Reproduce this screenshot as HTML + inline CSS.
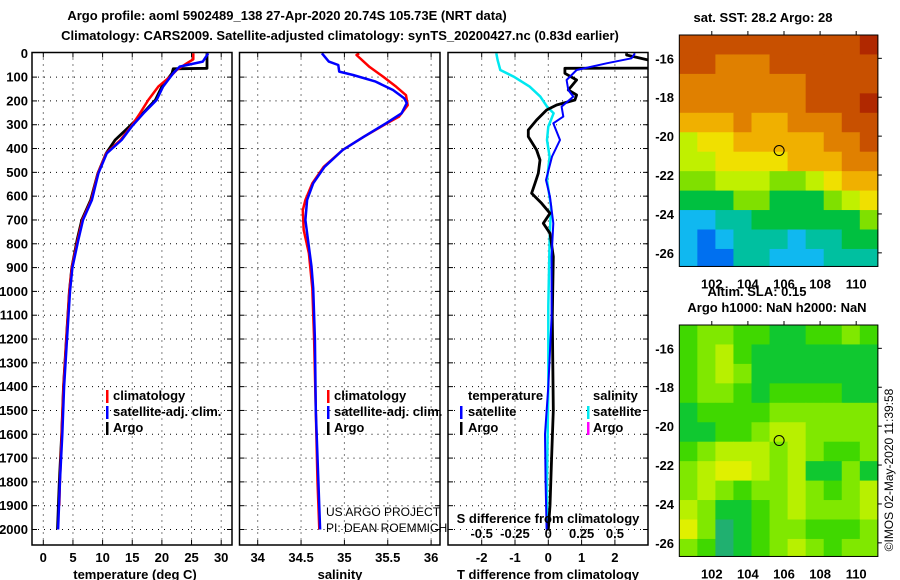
<!DOCTYPE html>
<html><head><meta charset="utf-8">
<style>
html,body{margin:0;padding:0;background:#fff;}
svg{display:block;font-family:"Liberation Sans",Arial,sans-serif;}
.b{font-weight:bold;font-size:13px;}
</style></head>
<body>
<svg id="c" width="900" height="580" viewBox="0 0 900 580" xmlns="http://www.w3.org/2000/svg"></svg>
<script>
// ---------------- data ----------------
const depthTicks = [0,100,200,300,400,500,600,700,800,900,1000,1100,1200,1300,1400,1500,1600,1700,1800,1900,2000];
const tempTicks = [0,5,10,15,20,25,30];
const salTicks = [34,34.5,35,35.5,36];
const salTickLabels = ["34","34.5","35","35.5","36"];
const tdiffTicks = [-2,-1,0,1,2];
const sdiffTicks = [-0.5,-0.25,0,0.25,0.5];
const sdiffTickLabels = ["-0.5","-0.25","0","0.25","0.5"];

// temperature profiles
const tClimDepth = [0,25,42,70,98,140,196,252,308,364,420,504,616,700,784,900,1000,1200,1400,1600,1800,1900];
const tClimVal   = [25.3,25.3,24.2,22.5,21.4,19.4,17.7,16.3,14.8,13.0,10.6,9.2,8.1,6.6,5.8,4.8,4.4,3.9,3.4,3.1,2.8,2.7];
const tSatDepth  = [0,35,56,84,140,196,252,308,364,420,504,616,700,784,900,1000,1200,1400,1600,1800,2000];
const tSatVal    = [27.8,26.9,23.0,21.9,20.2,19.1,16.9,14.9,13.2,10.7,9.3,8.2,6.7,5.9,4.9,4.5,4.0,3.5,3.2,2.8,2.5];
const tArgoDepth = [0,63,65,84,140,196,252,308,364,420,504,616,700,784,900,1000,1200,1400,1600,1800,2000];
const tArgoVal   = [27.6,27.6,21.9,21.7,20.0,18.9,16.8,14.5,12.1,10.6,9.2,8.0,6.5,5.7,4.8,4.4,3.9,3.4,3.1,2.7,2.4];

// salinity profiles
const sClimDepth = [0,7,57,99,141,176,218,266,294,351,406,477,546,616,659,742,840,986,1200,1500,1800,2000];
const sClimVal   = [35.17,35.14,35.29,35.45,35.60,35.71,35.73,35.63,35.49,35.22,34.98,34.76,34.63,34.55,34.52,34.53,34.59,34.63,34.65,34.67,34.69,34.71];
const sSatDepth  = [0,35,49,77,91,119,154,189,209,252,294,351,406,477,546,616,700,784,896,986,1200,1500,1800,2000];
const sSatVal    = [34.74,34.82,34.93,34.94,35.10,35.36,35.56,35.69,35.72,35.66,35.48,35.22,34.98,34.77,34.64,34.57,34.55,34.58,34.62,34.64,34.66,34.67,34.70,34.72];

// differences
const dTSatDepth = [0,21,42,70,112,154,182,224,266,294,364,434,532,603,714,854,1106,1400,1600,1800,2000];
const dTSatVal   = [2.6,2.5,1.75,0.85,0.55,0.6,0.75,0.4,0.45,0.15,0.35,0.11,-0.07,0.05,0.15,0.1,0.1,0.0,-0.1,-0.08,-0.05];
const dTArgoDepth = [0,7,35,62,63,84,112,154,175,196,217,238,280,322,350,406,448,504,546,588,630,672,714,756,854,1106,1500,1700,1900,2000];
const dTArgoVal   = [2.35,2.35,3.2,3.2,0.5,0.5,0.85,0.6,0.85,0.8,0.25,-0.05,-0.35,-0.6,-0.6,-0.35,-0.25,-0.3,-0.4,-0.5,-0.2,0.05,-0.15,0.05,0.15,0.12,0.15,0.1,0.05,0.0];
const dSSatDepth = [0,28,70,98,140,182,224,252,308,364,434,532,644,784,1064,1400,1800,2000];
const dSSatVal   = [-0.39,-0.38,-0.36,-0.26,-0.14,-0.06,-0.01,0.04,0.0,-0.01,0.01,-0.01,0.02,0.01,0.0,0.0,-0.01,-0.01];

// maps
const mapLonTicks = [102,104,106,108,110];
const mapLatTicks = [-16,-18,-20,-22,-24,-26];
const floatLon = 105.73, floatLat = -20.74;
const sstPalette = ["#0030c0","#0070f0","#10b8f0","#00c0a0","#00c040","#80e000","#c0f000","#f0e000","#f0b000","#e08000","#c85000","#b02800"];
const sstGrid = [
 [10,10,10,10,10,10,10,10,10,10,11],
 [10,10,9,9,9,10,10,10,10,10,10],
 [9,9,9,9,9,9,9,10,10,10,10],
 [9,9,9,9,9,9,9,10,10,10,11],
 [8,8,8,9,8,8,9,9,9,10,10],
 [6,7,7,8,8,8,8,8,9,9,10],
 [6,6,7,7,7,7,8,8,8,9,9],
 [5,5,6,6,6,5,5,6,7,8,8],
 [4,4,4,5,5,4,4,4,5,6,7],
 [2,2,3,3,4,4,4,4,4,4,5],
 [2,1,2,3,3,3,2,3,3,4,4],
 [2,1,1,3,3,2,2,2,3,3,3]];
const slaPalette = ["#20b070","#10c830","#40d800","#80e800","#b8f000","#e0f000"];
const slaGrid = [
 [2,3,3,2,2,1,1,2,2,3,2],
 [2,3,4,2,1,1,1,1,1,1,1],
 [2,3,4,3,1,1,1,1,1,1,1],
 [2,3,3,2,1,2,2,2,2,1,1],
 [1,2,2,2,2,3,3,3,3,3,3],
 [1,1,2,2,3,4,4,3,3,3,3],
 [2,3,4,4,4,3,4,3,2,2,3],
 [3,4,5,5,4,3,4,1,1,3,1],
 [3,4,3,2,3,3,4,3,2,3,4],
 [4,3,1,1,2,3,4,3,3,3,4],
 [5,3,0,1,2,3,3,2,2,2,3],
 [3,2,0,1,2,3,4,3,2,3,3]];

// ---------------- drawing ----------------
const NS="http://www.w3.org/2000/svg";
const svg=document.getElementById('c');
function el(tag,attrs,parent){const e=document.createElementNS(NS,tag);for(const k in attrs)e.setAttribute(k,attrs[k]);(parent||svg).appendChild(e);return e;}
function txt(s,x,y,attrs,parent){const e=el('text',Object.assign({x:x,y:y},attrs),parent);e.textContent=s;return e;}

const TOP=52.5, BOT=545;
const yD = d => 53.3 + d*0.2381;
const xT = t => 43.3 + t*5.93;
const xS = s => 257.7 + (s-34)*86.7;
const xDT = v => 548.3 + v*33.3;
const xDS = v => 548.3 + v*133.3;

const panels=[{x0:32,x1:232,name:'temperature-panel'},{x0:239.5,x1:440,name:'salinity-panel'},{x0:448,x1:648,name:'difference-panel'}];
const pg=[];
panels.forEach((p,i)=>{
  const g=el('g',{});
  
  
  pg.push(g);
  const cp=el('clipPath',{id:'cp'+i},g);
  el('rect',{x:p.x0,y:TOP,width:p.x1-p.x0,height:BOT-TOP},cp);
  // horizontal grid
  depthTicks.forEach(d=>{
    if(d===0) return;
    const l=el('line',{x1:p.x0,x2:p.x1,y1:yD(d),y2:yD(d),stroke:'#000','stroke-width':1,'stroke-dasharray':'1,5'},g);
    
    
    el('line',{x1:p.x0,x2:p.x0+5,y1:yD(d),y2:yD(d),stroke:'#000'},g);
    el('line',{x1:p.x1-5,x2:p.x1,y1:yD(d),y2:yD(d),stroke:'#000'},g);
  });
});
// vertical grids
function vgrid(g,xs,x0,x1){xs.forEach(x=>{const l=el('line',{x1:x,x2:x,y1:TOP,y2:BOT,stroke:'#000','stroke-dasharray':'1,5'},g);
  
  
  el('line',{x1:x,x2:x,y1:BOT-5,y2:BOT,stroke:'#000'},g);el('line',{x1:x,x2:x,y1:TOP,y2:TOP+5,stroke:'#000'},g);});}
vgrid(pg[0],tempTicks.map(xT));
vgrid(pg[1],salTicks.map(xS));
vgrid(pg[2],tdiffTicks.map(xDT));

function series(g,clip,depths,vals,xf,color,name,w){
  const pts=depths.map((d,i)=>xf(vals[i]).toFixed(1)+','+yD(d).toFixed(1)).join(' ');
  const pl=el('polyline',{points:pts,fill:'none',stroke:color,'stroke-width':w||2.5,'clip-path':'url(#'+clip+')','stroke-linejoin':'round'},g);
  
  
}
series(pg[0],'cp0',tArgoDepth,tArgoVal,xT,'#000','temp-argo-line',2.8);
series(pg[0],'cp0',tClimDepth,tClimVal,xT,'#ff0000','temp-climatology-line');
series(pg[0],'cp0',tSatDepth,tSatVal,xT,'#0000ff','temp-satellite-line');
series(pg[1],'cp1',sClimDepth,sClimVal,xS,'#ff0000','salinity-climatology-line');
series(pg[1],'cp1',sSatDepth,sSatVal,xS,'#0000ff','salinity-satellite-line');
series(pg[2],'cp2',dSSatDepth,dSSatVal,xDS,'#00e8f0','sdiff-satellite-line');
series(pg[2],'cp2',dTArgoDepth,dTArgoVal,xDT,'#000','tdiff-argo-line',2.8);
series(pg[2],'cp2',dTSatDepth,dTSatVal,xDT,'#0000ff','tdiff-satellite-line',2);

// frames
panels.forEach((p,i)=>{el('rect',{x:p.x0,y:TOP,width:p.x1-p.x0,height:BOT-TOP,fill:'none',stroke:'#000','stroke-width':1.5},pg[i]);});

// depth labels
depthTicks.forEach(d=>{const t=txt(String(d),28,yD(d)+4.5,{class:'b','text-anchor':'end'});
  
  });
// x tick labels
tempTicks.forEach(v=>{const t=txt(String(v),xT(v),562,{class:'b','text-anchor':'middle'});
  
  });
salTicks.forEach((v,i)=>{const t=txt(salTickLabels[i],xS(v),562,{class:'b','text-anchor':'middle'});
  
  });
tdiffTicks.forEach(v=>{const t=txt(String(v),xDT(v),562,{class:'b','text-anchor':'middle'});
  
  });
sdiffTicks.forEach((v,i)=>{const t=txt(sdiffTickLabels[i],xDS(v),538,{class:'b','text-anchor':'middle'});
  
  });
</script>
<script>
// static labels
(function(){
const NS="http://www.w3.org/2000/svg";const svg=document.getElementById('c');
function t(s,x,y,a,name){const e=document.createElementNS(NS,'text');e.setAttribute('x',x);e.setAttribute('y',y);for(const k in a)e.setAttribute(k,a[k]);e.textContent=s;
 svg.appendChild(e);return e;}
function bar(x,y,c,name){const r=document.createElementNS(NS,'rect');r.setAttribute('x',x);r.setAttribute('y',y);r.setAttribute('width',2.5);r.setAttribute('height',13);r.setAttribute('fill',c);
 svg.appendChild(r);}
const B={class:'b'},BM={class:'b','text-anchor':'middle'};
t('Argo profile: aoml 5902489_138 27-Apr-2020 20.74S 105.73E (NRT data)',287,20,BM,'title-line-1');
t('Climatology: CARS2009. Satellite-adjusted climatology: synTS_20200427.nc (0.83d earlier)',340,40,BM,'title-line-2');
t('temperature (deg C)',135,579,BM,'temp-axis-title');
t('salinity',340,579,BM,'salinity-axis-title');
t('T difference from climatology',548,579,BM,'tdiff-axis-title');
t('S difference from climatology',548,523,BM,'sdiff-axis-title');
// legends
bar(106,390,'#ff0000','legend-swatch-climatology');t('climatology',113,400,B,'legend-climatology');
bar(106,406,'#0000ff','legend-swatch-satellite');t('satellite-adj. clim.',113,416,B,'legend-satellite');
bar(106,422,'#000','legend-swatch-argo');t('Argo',113,432,B,'legend-argo');
bar(327,390,'#ff0000','legend-swatch-climatology-2');t('climatology',334,400,B,'legend-climatology-2');
bar(327,406,'#0000ff','legend-swatch-satellite-2');t('satellite-adj. clim.',334,416,B,'legend-satellite-2');
bar(327,422,'#000','legend-swatch-argo-2');t('Argo',334,432,B,'legend-argo-2');
t('temperature',468,400,B,'legend-temperature-heading');
bar(460,406,'#0000ff','legend-swatch-t-satellite');t('satellite',468,416,B,'legend-t-satellite');
bar(460,422,'#000','legend-swatch-t-argo');t('Argo',468,432,B,'legend-t-argo');
t('salinity',593,400,B,'legend-salinity-heading');
bar(587,406,'#00e8f0','legend-swatch-s-satellite');t('satellite',593,416,B,'legend-s-satellite');
bar(587,422,'#ff00ff','legend-swatch-s-argo');t('Argo',593,432,B,'legend-s-argo');
t('US ARGO PROJECT',326,516,{'font-size':'12px'},'credit-project');
t('PI: DEAN ROEMMICH',326,532,{'font-size':'12px'},'credit-pi');
t('©IMOS 02-May-2020 11:39:58',893,470,{'font-size':'12px','text-anchor':'middle',transform:'rotate(-90 893 470)'},'imos-timestamp');
t('sat. SST: 28.2 Argo: 28',763,22,BM,'sst-map-title');
t('Altim. SLA: 0.15',757,296,BM,'sla-value-label');
t('Argo h1000: NaN h2000: NaN',777,312,BM,'sla-map-title');
})();
</script>
<script>
// maps
(function(){
const NS="http://www.w3.org/2000/svg";const svg=document.getElementById('c');
function el(tag,a,p){const e=document.createElementNS(NS,tag);for(const k in a)e.setAttribute(k,a[k]);(p||svg).appendChild(e);return e;}
const LON0=100.2, LAT0=-14.8, PXLON=18.05, PXLAT=19.45;
function drawMap(top,grid,pal,name){
  const g=el('g',{});
  
  
  const X=lon=>679.3+(lon-LON0)*PXLON, Y=lat=>top+(LAT0-lat)*PXLAT;
  const bottom=Y(-26.7), right=X(111.2);
  grid.forEach((row,r)=>row.forEach((v,c)=>{
    const x=X(LON0+c), y=Y(LAT0-r);
    const w=Math.min(X(LON0+c+1),right)-x+0.5, h=Math.min(Y(LAT0-r-1),bottom)-y+0.5;
    const cell=el('rect',{x:x,y:y,width:w,height:h,fill:pal[v]},g);
    
    
  }));
  el('rect',{x:679.3,y:top,width:right-679.3,height:bottom-top,fill:'none',stroke:'#000','stroke-width':1},g);
  mapLonTicks.forEach(l=>{el('line',{x1:X(l),x2:X(l),y1:top,y2:top-4,stroke:'#000'},g);
    const t=el('text',{x:X(l),y:bottom+22,class:'b','text-anchor':'middle'},g);t.textContent=String(l);
    });
  mapLatTicks.forEach(l=>{el('line',{x1:right,x2:right+4,y1:Y(l),y2:Y(l),stroke:'#000'},g);
    const t=el('text',{x:674,y:Y(l)+5,class:'b','text-anchor':'end'},g);t.textContent=String(l);
    });
  const m=el('circle',{cx:X(floatLon),cy:Y(floatLat),r:5,fill:'none',stroke:'#000','stroke-width':1},g);
  
  
}
drawMap(35,sstGrid,sstPalette,'sst-map');
drawMap(325,slaGrid,slaPalette,'sla-map');
})();
</script>
</body></html>
